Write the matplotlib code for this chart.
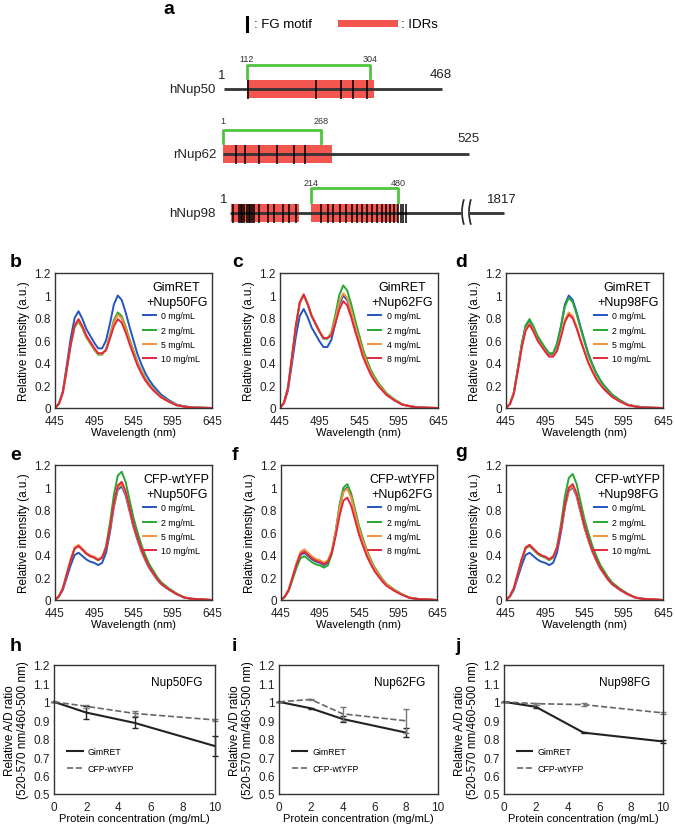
import matplotlib
matplotlib.use("Agg")
import matplotlib.pyplot as plt
from matplotlib.patches import Rectangle, Arc

plt.rcParams['font.family'] = ['Liberation Sans', 'DejaVu Sans']

# ---------------- data ----------------
# panel a (schematic)
proteins = ["hNup50", "rNup62", "hNup98"]
prot_len = ["468", "525", "1817"]
frag_start = ["112", "1", "214"]
frag_end = ["304", "268", "480"]

# spectra b-g
wl = [445, 450, 455, 460, 465, 470, 475, 480, 485, 490, 495, 500, 505, 510, 515,
      520, 525, 530, 535, 540, 545, 550, 555, 560, 565, 570, 575, 580, 590, 600, 610, 620, 645]

conc_5 = ["0 mg/mL", "2 mg/mL", "5 mg/mL", "10 mg/mL"]
conc_4 = ["0 mg/mL", "2 mg/mL", "4 mg/mL", "8 mg/mL"]

spec_b = [
    [0, 0.04, 0.15, 0.38, 0.62, 0.80, 0.86, 0.79, 0.70, 0.64, 0.58, 0.53, 0.53, 0.60, 0.75,
     0.92, 1.00, 0.96, 0.85, 0.72, 0.60, 0.48, 0.39, 0.31, 0.25, 0.20, 0.16, 0.12, 0.07, 0.03, 0.015, 0.005, 0],
    [0, 0.036, 0.134, 0.34, 0.555, 0.716, 0.77, 0.707, 0.627, 0.573, 0.519, 0.474, 0.474, 0.52, 0.645,
     0.782, 0.85, 0.816, 0.723, 0.612, 0.51, 0.408, 0.332, 0.264, 0.213, 0.17, 0.136, 0.102, 0.06, 0.026, 0.013, 0.004, 0],
    [0, 0.036, 0.136, 0.345, 0.562, 0.726, 0.78, 0.717, 0.635, 0.58, 0.526, 0.481, 0.481, 0.522, 0.638,
     0.764, 0.83, 0.797, 0.706, 0.598, 0.498, 0.398, 0.324, 0.257, 0.208, 0.166, 0.133, 0.1, 0.058, 0.025, 0.012, 0.004, 0],
    [0, 0.037, 0.138, 0.349, 0.57, 0.735, 0.79, 0.726, 0.643, 0.588, 0.533, 0.487, 0.487, 0.513, 0.615,
     0.727, 0.79, 0.758, 0.672, 0.569, 0.474, 0.379, 0.308, 0.245, 0.198, 0.158, 0.126, 0.095, 0.055, 0.024, 0.012, 0.004, 0],
]
spec_c = [
    [0, 0.041, 0.153, 0.389, 0.634, 0.818, 0.88, 0.808, 0.716, 0.655, 0.593, 0.542, 0.542, 0.606, 0.75,
     0.92, 1.00, 0.96, 0.85, 0.72, 0.60, 0.48, 0.39, 0.31, 0.25, 0.20, 0.16, 0.12, 0.07, 0.03, 0.015, 0.005, 0],
    [0, 0.047, 0.174, 0.442, 0.721, 0.93, 1.0, 0.919, 0.814, 0.744, 0.675, 0.616, 0.616, 0.672, 0.825,
     1.003, 1.09, 1.046, 0.927, 0.785, 0.654, 0.523, 0.425, 0.338, 0.273, 0.218, 0.174, 0.131, 0.076, 0.033, 0.016, 0.005, 0],
    [0, 0.047, 0.176, 0.446, 0.728, 0.939, 1.01, 0.927, 0.822, 0.751, 0.681, 0.622, 0.622, 0.66, 0.788,
     0.938, 1.02, 0.979, 0.867, 0.734, 0.612, 0.49, 0.398, 0.316, 0.255, 0.204, 0.163, 0.122, 0.071, 0.031, 0.015, 0.005, 0],
    [0, 0.047, 0.176, 0.446, 0.728, 0.939, 1.01, 0.927, 0.822, 0.751, 0.681, 0.622, 0.622, 0.642, 0.75,
     0.874, 0.95, 0.912, 0.808, 0.684, 0.57, 0.456, 0.371, 0.295, 0.238, 0.19, 0.152, 0.114, 0.067, 0.029, 0.014, 0.005, 0],
]
spec_d = [
    [0, 0.036, 0.136, 0.345, 0.562, 0.726, 0.78, 0.717, 0.635, 0.58, 0.526, 0.481, 0.481, 0.57, 0.728,
     0.92, 1.00, 0.96, 0.85, 0.72, 0.60, 0.48, 0.39, 0.31, 0.25, 0.20, 0.16, 0.12, 0.07, 0.03, 0.015, 0.005, 0],
    [0, 0.037, 0.138, 0.349, 0.57, 0.735, 0.79, 0.726, 0.643, 0.588, 0.533, 0.487, 0.487, 0.57, 0.72,
     0.902, 0.98, 0.941, 0.833, 0.706, 0.588, 0.47, 0.382, 0.304, 0.245, 0.196, 0.157, 0.118, 0.069, 0.029, 0.015, 0.005, 0],
    [0, 0.035, 0.131, 0.331, 0.541, 0.698, 0.75, 0.689, 0.61, 0.558, 0.506, 0.462, 0.462, 0.516, 0.641,
     0.782, 0.85, 0.816, 0.723, 0.612, 0.51, 0.408, 0.332, 0.264, 0.213, 0.17, 0.136, 0.102, 0.06, 0.026, 0.013, 0.004, 0],
    [0, 0.034, 0.129, 0.327, 0.533, 0.688, 0.74, 0.679, 0.602, 0.55, 0.499, 0.456, 0.456, 0.507, 0.63,
     0.764, 0.83, 0.797, 0.706, 0.598, 0.498, 0.398, 0.324, 0.257, 0.208, 0.166, 0.133, 0.1, 0.058, 0.025, 0.012, 0.004, 0],
]
spec_e = [
    [0, 0.03, 0.09, 0.20, 0.31, 0.40, 0.42, 0.39, 0.36, 0.34, 0.33, 0.31, 0.33, 0.42, 0.60,
     0.828, 0.98, 1.01, 0.929, 0.788, 0.646, 0.535, 0.434, 0.354, 0.283, 0.232, 0.182, 0.141, 0.091, 0.051, 0.02, 0.01, 0],
    [0, 0.034, 0.103, 0.229, 0.354, 0.457, 0.48, 0.446, 0.411, 0.389, 0.377, 0.354, 0.377, 0.479, 0.684,
     0.935, 1.106, 1.14, 1.049, 0.889, 0.73, 0.604, 0.49, 0.399, 0.319, 0.262, 0.205, 0.16, 0.103, 0.057, 0.023, 0.011, 0],
    [0, 0.035, 0.105, 0.233, 0.362, 0.467, 0.49, 0.455, 0.42, 0.397, 0.385, 0.362, 0.385, 0.462, 0.63,
     0.845, 0.999, 1.03, 0.948, 0.803, 0.659, 0.546, 0.443, 0.361, 0.288, 0.237, 0.185, 0.144, 0.093, 0.052, 0.021, 0.01, 0],
    [0, 0.034, 0.103, 0.229, 0.354, 0.457, 0.48, 0.446, 0.411, 0.389, 0.377, 0.354, 0.377, 0.462, 0.636,
     0.861, 1.019, 1.05, 0.966, 0.819, 0.672, 0.557, 0.452, 0.368, 0.294, 0.242, 0.189, 0.147, 0.095, 0.053, 0.021, 0.011, 0],
]
spec_f = [
    [0, 0.03, 0.09, 0.20, 0.31, 0.40, 0.42, 0.39, 0.36, 0.34, 0.33, 0.31, 0.33, 0.42, 0.60,
     0.82, 0.97, 1.00, 0.92, 0.78, 0.64, 0.53, 0.43, 0.35, 0.28, 0.23, 0.18, 0.14, 0.09, 0.05, 0.02, 0.01, 0],
    [0, 0.028, 0.084, 0.186, 0.288, 0.372, 0.39, 0.362, 0.334, 0.316, 0.307, 0.288, 0.307, 0.407, 0.60,
     0.845, 0.999, 1.03, 0.948, 0.803, 0.659, 0.546, 0.443, 0.361, 0.288, 0.237, 0.185, 0.144, 0.093, 0.052, 0.021, 0.01, 0],
    [0, 0.032, 0.096, 0.214, 0.332, 0.428, 0.45, 0.418, 0.386, 0.364, 0.353, 0.332, 0.353, 0.437, 0.606,
     0.812, 0.96, 0.99, 0.911, 0.772, 0.634, 0.525, 0.426, 0.347, 0.277, 0.228, 0.178, 0.139, 0.089, 0.05, 0.02, 0.01, 0],
    [0, 0.031, 0.092, 0.205, 0.317, 0.41, 0.43, 0.399, 0.369, 0.348, 0.338, 0.317, 0.338, 0.412, 0.564,
     0.746, 0.883, 0.91, 0.837, 0.71, 0.582, 0.482, 0.391, 0.319, 0.255, 0.209, 0.164, 0.127, 0.082, 0.046, 0.018, 0.009, 0],
]
spec_g = [
    [0, 0.03, 0.09, 0.20, 0.31, 0.40, 0.42, 0.39, 0.36, 0.34, 0.33, 0.31, 0.33, 0.42, 0.60,
     0.82, 0.97, 1.00, 0.92, 0.78, 0.64, 0.53, 0.43, 0.35, 0.28, 0.23, 0.18, 0.14, 0.09, 0.05, 0.02, 0.01, 0],
    [0, 0.034, 0.103, 0.229, 0.354, 0.457, 0.48, 0.446, 0.411, 0.389, 0.377, 0.354, 0.377, 0.475, 0.672,
     0.918, 1.086, 1.12, 1.03, 0.874, 0.717, 0.594, 0.482, 0.392, 0.314, 0.258, 0.202, 0.157, 0.101, 0.056, 0.022, 0.011, 0],
    [0, 0.035, 0.105, 0.233, 0.362, 0.467, 0.49, 0.455, 0.42, 0.397, 0.385, 0.362, 0.385, 0.462, 0.63,
     0.828, 0.98, 1.01, 0.929, 0.788, 0.646, 0.535, 0.434, 0.354, 0.283, 0.232, 0.182, 0.141, 0.091, 0.051, 0.02, 0.01, 0],
    [0, 0.035, 0.105, 0.233, 0.362, 0.467, 0.49, 0.455, 0.42, 0.397, 0.385, 0.362, 0.385, 0.462, 0.63,
     0.845, 0.999, 1.03, 0.948, 0.803, 0.659, 0.546, 0.443, 0.361, 0.288, 0.237, 0.185, 0.144, 0.093, 0.052, 0.021, 0.01, 0],
]

# A/D ratio panels h-j
x_h = [0, 2, 5, 10]
gim_h = [1.0, 0.942, 0.886, 0.76]
gim_h_err = [0, 0.035, 0.03, 0.055]
cfp_h = [1.0, 0.976, 0.937, 0.902]
cfp_h_err = [0, 0.008, 0.015, 0.006]

x_i = [0, 2, 4, 8]
gim_i = [1.0, 0.965, 0.907, 0.833]
gim_i_err = [0, 0.004, 0.018, 0.025]
cfp_i = [1.0, 1.013, 0.935, 0.897]
cfp_i_err = [0, 0.005, 0.038, 0.065]

x_j = [0, 2, 5, 10]
gim_j = [1.0, 0.973, 0.833, 0.785]
gim_j_err = [0, 0.008, 0.004, 0.007]
cfp_j = [1.0, 0.99, 0.985, 0.94]
cfp_j_err = [0, 0.005, 0.008, 0.005]

line_colors = ["#2453c2", "#27a831", "#f0923c", "#e2283c"]

# ---------------- figure ----------------
W, H = 675, 828
fig = plt.figure(figsize=(W / 100, H / 100), dpi=100)


def px_axes(l, t, r, b):
    return fig.add_axes([l / W, 1 - b / H, (r - l) / W, (b - t) / H])


# overlay in pixel coordinates for panel a and letters
ov = fig.add_axes([0, 0, 1, 1], zorder=10)
ov.set_xlim(0, W)
ov.set_ylim(H, 0)
ov.axis('off')
ov.patch.set_alpha(0)

red = "#f2564e"
grn = "#4fc33d"
dark = "#333333"

# legend of panel a
ov.plot([247, 247], [18, 32], color='black', lw=2.2)
ov.text(254, 25, ": FG motif", fontsize=9.5, va='center', ha='left')
ov.add_patch(Rectangle((338, 21), 60, 6.5, color=red, lw=0))
ov.text(401, 25, ": IDRs", fontsize=9.5, va='center', ha='left')

rows = [
    dict(y=90, x0=224, x1=442, idr=[(247, 374)], fg=[248, 316, 341, 353, 367],
         br=(247, 370), br_top=66, len_x=441, len_y=75, one_x=222, one_y=76, num_y=59),
    dict(y=155, x0=223, x1=469, idr=[(223, 332)], fg=[236, 245, 259, 277, 294, 305],
         br=(223, 321), br_top=131, len_x=468, len_y=139, one_x=None, one_y=None, num_y=122),
    dict(y=214, x0=230, x1=504, idr=[(231, 299), (311, 398)],
         fg=[233, 238.5, 240.7, 242.3, 244.3, 246.7, 248.7, 250.3, 252.2, 254.3, 259.3, 267.7, 274, 282.7, 289.3, 296,
             321, 328.3, 333.3, 340, 346, 351.7, 356.7, 361.7, 366.7, 371.7, 376.7, 381.7, 386, 390, 394, 398,
             401, 403.3, 405.7],
         br=(311, 398), br_top=189, len_x=502, len_y=200, one_x=224, one_y=200, num_y=183),
]
for k, r in enumerate(rows):
    y = r['y']
    for (a0, a1) in r['idr']:
        ov.add_patch(Rectangle((a0, y - 9), a1 - a0, 18, color=red, lw=0, zorder=2))
    ov.plot([r['x0'], r['x1']], [y, y], color=dark, lw=2.0, zorder=3, solid_capstyle='butt')
    ov.vlines(r['fg'], y - 9, y + 10, color='black', lw=1.1, zorder=4)
    b0, b1 = r['br']
    ov.plot([b0, b0, b1, b1], [y - 11, r['br_top'], r['br_top'], y - 11], color=grn, lw=2.0, zorder=3)
    ov.text(b0, r['num_y'], frag_start[k], fontsize=6.5, ha='center', va='center', color='#333')
    ov.text(b1, r['num_y'], frag_end[k], fontsize=6.5, ha='center', va='center', color='#333')
    if r['one_x'] is not None:
        ov.text(r['one_x'], r['one_y'], "1", fontsize=9.5, ha='center', va='center', color='#222')
    ov.text(r['len_x'], r['len_y'], prot_len[k], fontsize=9.5, ha='center', va='center', color='#222')
    ov.text(216, y, proteins[k], fontsize=9.5, ha='right', va='center', color='#222')

# break mark on hNup98
ov.add_patch(Rectangle((461, 209), 9, 10, color='white', lw=0, zorder=3.5))
for bx in (463, 470):
    ov.add_patch(Arc((bx + 7, 213), 16, 38, theta1=115, theta2=245, color='#222', lw=1.2, zorder=5))

# panel letters
letters = [("a", 163, 14), ("b", 10, 267), ("c", 232, 267), ("d", 455, 267),
           ("e", 10, 460), ("f", 232, 460), ("g", 455, 457),
           ("h", 10, 651), ("i", 232, 651), ("j", 455, 651)]
for t, lx, ly in letters:
    ov.text(lx, ly, t, fontsize=14, fontweight='bold', ha='left', va='baseline')


def style(ax):
    for s in ax.spines.values():
        s.set_color('#333333')
        s.set_linewidth(1.0)
    ax.tick_params(length=0, labelsize=8.5, colors='#222')
    ax.tick_params(axis='x', pad=5)
    ax.tick_params(axis='y', pad=3)


def spectrum(rect, data, concs, title):
    ax = px_axes(*rect)
    for vals, lab, col in zip(data, concs, line_colors):
        ax.plot(wl, vals, color=col, lw=1.4, label=lab)
    ax.set_xlim(445, 645)
    ax.set_ylim(0, 1.2)
    ax.set_xticks([445, 495, 545, 595, 645])
    ax.set_yticks([0, 0.2, 0.4, 0.6, 0.8, 1.0, 1.2])
    ax.set_yticklabels(["0", "0.2", "0.4", "0.6", "0.8", "1", "1.2"])
    ax.set_xlabel("Wavelength (nm)", fontsize=8, labelpad=0)
    ax.set_ylabel("Relative intensity (a.u.)", fontsize=8.5, labelpad=3)
    style(ax)
    ax.text(0.775, 0.84, title, transform=ax.transAxes, ha='center', va='center',
            fontsize=9, linespacing=1.25)
    ax.legend(loc='upper left', bbox_to_anchor=(0.56, 0.715), frameon=False, fontsize=6.3,
              handlelength=1.45, handletextpad=0.65, labelspacing=0.6, borderaxespad=0, borderpad=0)
    return ax


spectrum((55, 274, 212, 409), spec_b, conc_5, "GimRET\n+Nup50FG")
spectrum((280, 274, 438, 409), spec_c, conc_4, "GimRET\n+Nup62FG")
spectrum((506, 274, 663, 409), spec_d, conc_5, "GimRET\n+Nup98FG")
spectrum((55, 466, 212, 601), spec_e, conc_5, "CFP-wtYFP\n+Nup50FG")
spectrum((281, 466, 437, 601), spec_f, conc_4, "CFP-wtYFP\n+Nup62FG")
spectrum((506, 466, 663, 601), spec_g, conc_5, "CFP-wtYFP\n+Nup98FG")


def ratio(rect, x, g, ge, c, ce, title):
    ax = px_axes(*rect)
    ax.plot(x, g, color='#222222', lw=1.5, label='GimRET', clip_on=False)
    ax.plot(x, c, color='#666666', lw=1.2, ls='--', label='CFP-wtYFP', clip_on=False)
    eb1 = ax.errorbar(x, g, yerr=ge, fmt='none', ecolor='#222222', elinewidth=1.0, capsize=2.5,
                      capthick=1.0)
    eb2 = ax.errorbar(x, c, yerr=ce, fmt='none', ecolor='#777777', elinewidth=1.0, capsize=2.5,
                      capthick=1.0)
    for eb in (eb1, eb2):
        for art in eb.get_children():
            art.set_clip_on(False)
    ax.set_xlim(0, 10)
    ax.set_ylim(0.5, 1.2)
    ax.set_xticks([0, 2, 4, 6, 8, 10])
    ax.set_yticks([0.5, 0.6, 0.7, 0.8, 0.9, 1.0, 1.1, 1.2])
    ax.set_yticklabels(["0.5", "0.6", "0.7", "0.8", "0.9", "1", "1.1", "1.2"])
    ax.set_xlabel("Protein concentration (mg/mL)", fontsize=8, labelpad=0)
    ax.set_ylabel("Relative A/D ratio\n(520-570 nm/460-500 nm)", fontsize=8.5, labelpad=3,
                  linespacing=1.15)
    style(ax)
    ax.text(0.92, 0.87, title, transform=ax.transAxes, ha='right', va='center', fontsize=8.5)
    ax.legend(loc='lower left', bbox_to_anchor=(0.08, 0.16), frameon=False, fontsize=6.3,
              handlelength=1.8, handletextpad=0.6, labelspacing=1.0, borderaxespad=0, borderpad=0)
    return ax


ratio((54, 666, 215, 795), x_h, gim_h, gim_h_err, cfp_h, cfp_h_err, "Nup50FG")
ratio((279, 666, 438, 795), x_i, gim_i, gim_i_err, cfp_i, cfp_i_err, "Nup62FG")
ratio((504, 666, 663, 795), x_j, gim_j, gim_j_err, cfp_j, cfp_j_err, "Nup98FG")

fig.savefig("out.png", dpi=100)
